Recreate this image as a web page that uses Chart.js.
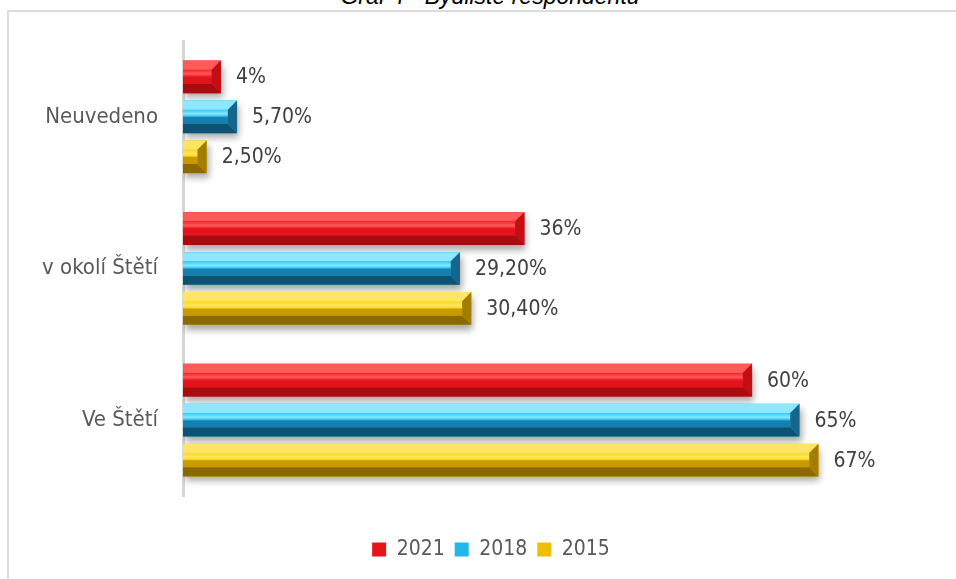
<!DOCTYPE html>
<html>
<head>
<meta charset="utf-8">
<script src="https://cdn.jsdelivr.net/npm/chart.js@4.4.1/dist/chart.umd.min.js"></script>
<style>
    html, body { margin: 0; padding: 0; background: #fff; overflow: hidden; }
    #wrap { position: relative; width: 956px; height: 579px; overflow: hidden; }
    #frame { position: absolute; left: 7px; top: 10px; width: 1000px; height: 700px; border: 2px solid #dcdcdc; border-right: none; border-bottom: none; box-sizing: border-box; }
    #title { position: absolute; left: 0; top: -15px; width: 980px; text-align: center; font: italic 23px "Liberation Sans", Arial, sans-serif; line-height: 23px; color: #000; }
    #barChart { position: absolute; left: 0; top: 0; }
</style>
</head>
<body>
<div id="wrap">
    <div id="frame"></div>
    <div id="title">Graf 4 - Bydliště respondentů</div>
    <canvas id="barChart" width="956" height="579"></canvas>
</div>
<script>
const categories = ['Neuvedeno', 'v okolí Štětí', 'Ve Štětí'];
const years = ['2021', '2018', '2015'];
const values_2021 = [4, 36, 60];
const values_2018 = [5.7, 29.2, 65];
const values_2015 = [2.5, 30.4, 67];
const labels_2021 = ['4%', '36%', '60%'];
const labels_2018 = ['5,70%', '29,20%', '65%'];
const labels_2015 = ['2,50%', '30,40%', '67%'];

const FONT = '"DejaVu Sans Condensed", "DejaVu Sans", sans-serif';

// shades for the bevelled bars: base, top bevel, face light, face dark, bottom bevel, end
const shades = [
    { base: '#e8141b', top: '#ff5a5a', hi: '#f2242a', lo: '#e0141a', bottom: '#a80c10', end: '#c40e14' },
    { base: '#1fb8e8', top: '#8ee6ff', hi: '#2ccaf8', lo: '#177fad', bottom: '#0e5273', end: '#14668c' },
    { base: '#f0be00', top: '#ffe566', hi: '#ffd91a', lo: '#c99a00', bottom: '#8a6a00', end: '#a37d00' }
];

function poly(ctx, pts, color){
    ctx.beginPath()
    ctx.moveTo(pts[0][0], pts[0][1])
    for(let i = 1; i < pts.length; i++){
        ctx.lineTo(pts[i][0], pts[i][1])
    }
    ctx.closePath()
    ctx.fillStyle = color
    ctx.fill()
}

const bevelPlugin = {
    id: 'bevel',
    afterLayout(chart){
        // legend sits a little right of the canvas centre in the original
        chart.legend.left += 13
        chart.legend.right += 13
    },
    beforeDatasetsDraw(chart){
        const ctx = chart.ctx
        ctx.save()
        ctx.shadowColor = 'rgba(0,0,0,0.35)'
        ctx.shadowBlur = 7
        ctx.shadowOffsetX = 2
        ctx.shadowOffsetY = 5
    },
    afterDatasetsDraw(chart){
        const ctx = chart.ctx
        ctx.restore()
        chart.data.datasets.forEach((ds, di) => {
            const s = shades[di]
            chart.getDatasetMeta(di).data.forEach((bar) => {
                const l = bar.base, r = bar.x
                const t = bar.y - bar.height / 2, b = bar.y + bar.height / 2
                const bv = Math.min(bar.height * 0.28, (r - l) / 2)
                const g = ctx.createLinearGradient(0, t + bv, 0, b - bv)
                g.addColorStop(0, s.hi)
                g.addColorStop(0.3, s.top)
                g.addColorStop(0.45, s.hi)
                g.addColorStop(0.55, s.lo)
                g.addColorStop(1, s.lo)
                poly(ctx, [[l, t + bv], [r - bv, t + bv], [r - bv, b - bv], [l, b - bv]], g)
                poly(ctx, [[l, t], [r, t], [r - bv, t + bv], [l, t + bv]], s.top)
                poly(ctx, [[l, b], [r, b], [r - bv, b - bv], [l, b - bv]], s.bottom)
                poly(ctx, [[r, t], [r, b], [r - bv, b - bv], [r - bv, t + bv]], s.end)
            })
        })
    },
    afterDraw(chart){
        // value labels next to the bars
        const ctx = chart.ctx
        const texts = [labels_2021, labels_2018, labels_2015]
        ctx.save()
        ctx.font = '21px ' + FONT
        ctx.fillStyle = '#404040'
        ctx.textAlign = 'left'
        ctx.textBaseline = 'middle'
        chart.data.datasets.forEach((ds, di) => {
            chart.getDatasetMeta(di).data.forEach((bar, i) => {
                ctx.fillText(texts[di][i], bar.x + 15, bar.y + 1)
            })
        })
        ctx.restore()
    }
}

const chart_data = {
    labels: categories,
    datasets: [
        { label: years[0], data: values_2021, backgroundColor: shades[0].base },
        { label: years[1], data: values_2018, backgroundColor: shades[1].base },
        { label: years[2], data: values_2015, backgroundColor: shades[2].base }
    ]
}

const config = {
    type: 'bar',
    data: chart_data,
    options: {
        indexAxis: 'y',
        responsive: false,
        animation: false,
        categoryPercentage: 0.79,
        barPercentage: 0.82,
        layout: {
            padding: { top: 41, right: 0, left: 0, bottom: 9 }
        },
        scales: {
            x: {
                min: 0,
                max: 81.5,
                grid: { display: false },
                border: { display: false },
                ticks: { display: false },
                afterFit: (scale) => { scale.height = 33 }
            },
            y: {
                grid: { display: false },
                border: { display: true, color: '#d6d6d6', width: 3 },
                ticks: {
                    color: '#595959',
                    padding: 17,
                    font: { family: FONT, size: 22 }
                },
                afterFit: (scale) => { scale.width = 183 }
            }
        },
        plugins: {
            legend: {
                position: 'bottom',
                labels: {
                    color: '#595959',
                    boxWidth: 14,
                    boxHeight: 14,
                    padding: 10,
                    font: { family: FONT, size: 21 }
                }
            },
            tooltip: { enabled: false }
        }
    },
    plugins: [bevelPlugin]
}

new Chart(document.getElementById('barChart'), config)
</script>
</body>
</html>
